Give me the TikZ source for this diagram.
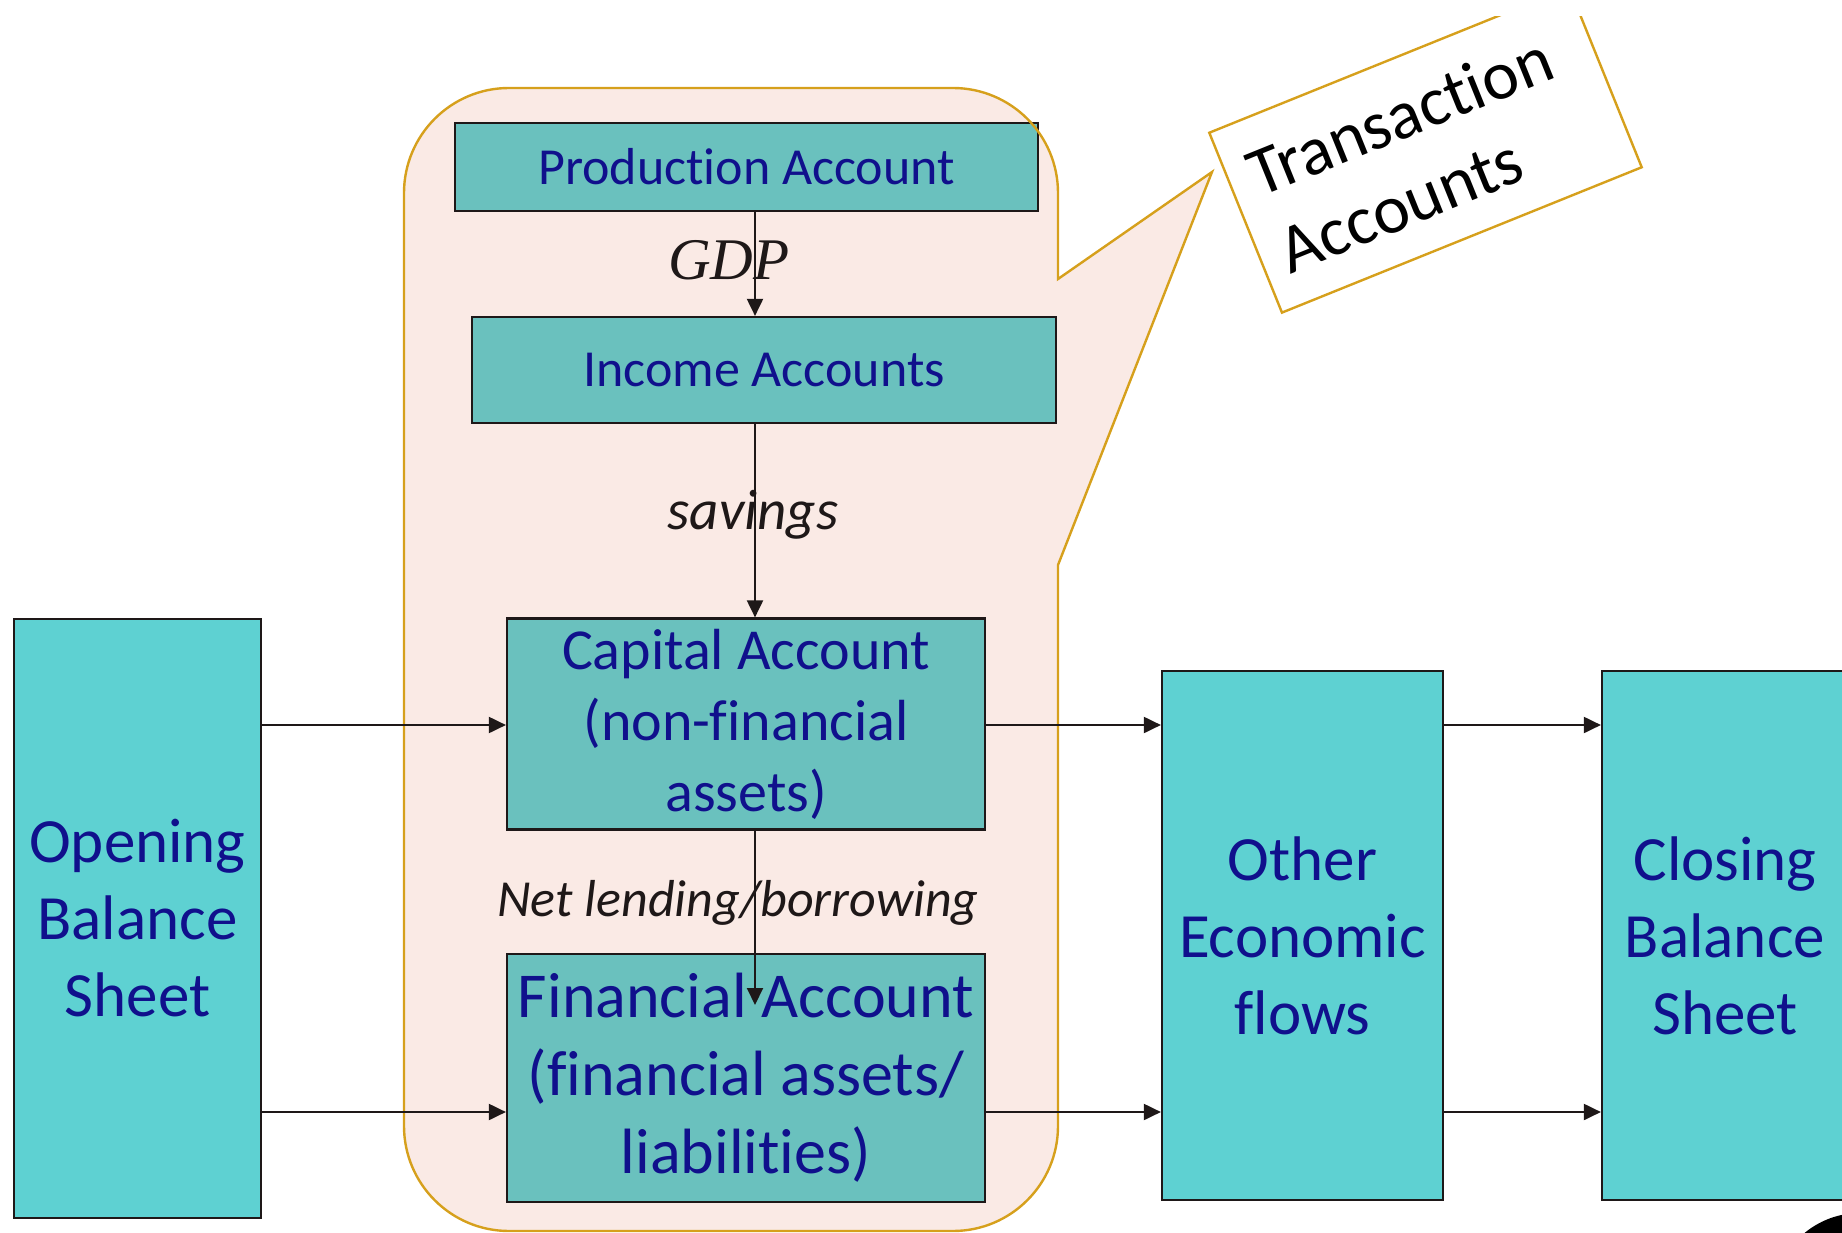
\documentclass[tikz,border=0pt]{standalone}
\usepackage{fontspec}
\setmainfont[Ligatures={NoCommon}]{Carlito}
\newfontfamily\seriffont{Liberation Serif}
\usepackage{tikz}
\usetikzlibrary{arrows.meta}
\definecolor{ink}{RGB}{30,24,24}
\definecolor{navy}{RGB}{16,16,140}
\definecolor{aqua}{RGB}{94,209,210}
\definecolor{sea}{RGB}{106,193,190}
\definecolor{blush}{RGB}{250,234,229}
\definecolor{gold}{RGB}{214,160,28}
\tikzset{
  flow/.style={line width=2pt,ink,-{Triangle[length=17pt,width=16pt]}},
  account/.style={draw=ink,line width=2.2pt,fill=sea,text=navy,align=center,inner sep=0pt},
  stage/.style={draw=ink,line width=2.2pt,fill=aqua,text=navy,align=center,inner sep=0pt,
    minimum height=529pt,font=\fontsize{63}{77}\selectfont},
  tag/.style={text=ink,inner sep=0pt,anchor=base},
  bubble/.style={draw=gold,line width=2.4pt}
}
\begin{document}
\begin{tikzpicture}[x=1pt,y=-1pt]
  \useasboundingbox (0,0) rectangle (1842,1233);
  % speech bubble behind the transaction accounts
  \path[fill=blush,save path=\bubblepath] (1058,565) [rounded corners=105pt] -- (1058,1231)
    -- (404,1231) -- (404,88) -- (1058,88) [sharp corners] -- (1058,279) -- (1212,172) -- cycle;

  \node[account,minimum width=583pt,minimum height=88pt,font=\fontsize{52}{63}\selectfont]
    (prod) at (746.5,167) {Production Account};
  \node[account,minimum width=584pt,minimum height=106pt,font=\fontsize{52}{63}\selectfont]
    (inc) at (764,370) {Income Accounts};
  \node[account,minimum width=478pt,minimum height=211pt,font=\fontsize{58}{71}\selectfont]
    (cap) at (746,724) {Capital Account\\(non-financial\\assets)};
  \node[account,minimum width=478pt,minimum height=248pt,font=\fontsize{64}{78}\selectfont]
    (fin) at (746,1078) {Financial Account\\(financial assets/\\liabilities)};

  \draw[bubble,use path=\bubblepath];

  \node[stage,minimum width=247pt,minimum height=599pt] (open) at (137.5,918.5) {Opening\\Balance\\Sheet};
  \node[stage,minimum width=281pt] (other) at (1302.5,935.5) {Other\\Economic\\flows};
  \node[stage,minimum width=246pt] (close) at (1725,935.5) {Closing\\Balance\\Sheet};

  \coordinate (spine) at (755,0);
  \coordinate (upper) at (0,725);
  \coordinate (lower) at (0,1112);
  \coordinate (nlend) at (755,1005);

  \draw[flow] (prod.south -| spine) -- (inc.north -| spine);
  \draw[flow] (inc.south -| spine) -- (cap.north -| spine);
  \draw[flow] (cap.south -| spine) -- (nlend);
  \draw[flow] (open.east |- upper) -- (cap.west |- upper);
  \draw[flow] (open.east |- lower) -- (fin.west |- lower);
  \draw[flow] (cap.east |- upper) -- (other.west |- upper);
  \draw[flow] (fin.east |- lower) -- (other.west |- lower);
  \draw[flow] (other.east |- upper) -- (close.west |- upper);
  \draw[flow] (other.east |- lower) -- (close.west |- lower);

  \node[tag,font=\seriffont\itshape\fontsize{59}{70}\selectfont] (gdp) at (729,280) {GDP};
  \node[tag,font=\itshape\fontsize{57}{70}\selectfont] (sav) at (753,529) {savings};
  \node[tag,font=\itshape\fontsize{52}{63}\selectfont] (nlb) at (738,916) {Net lending/borrowing};

  % rotated label box, trimmed at the top edge
  \begin{scope}
    \clip (0,17) rectangle (1842,1233);
    \node[draw=gold,line width=2.4pt,fill=white,rotate=22,minimum width=388pt,minimum height=194pt,
      text width=344pt,align=left,inner sep=0pt,font=\fontsize{69}{83}\selectfont]
      (tacc) at (1425.5,150) {Transaction\\Accounts};
  \end{scope}

  \fill[black] (1860,1300) circle[radius=87pt];
\end{tikzpicture}
\end{document}
